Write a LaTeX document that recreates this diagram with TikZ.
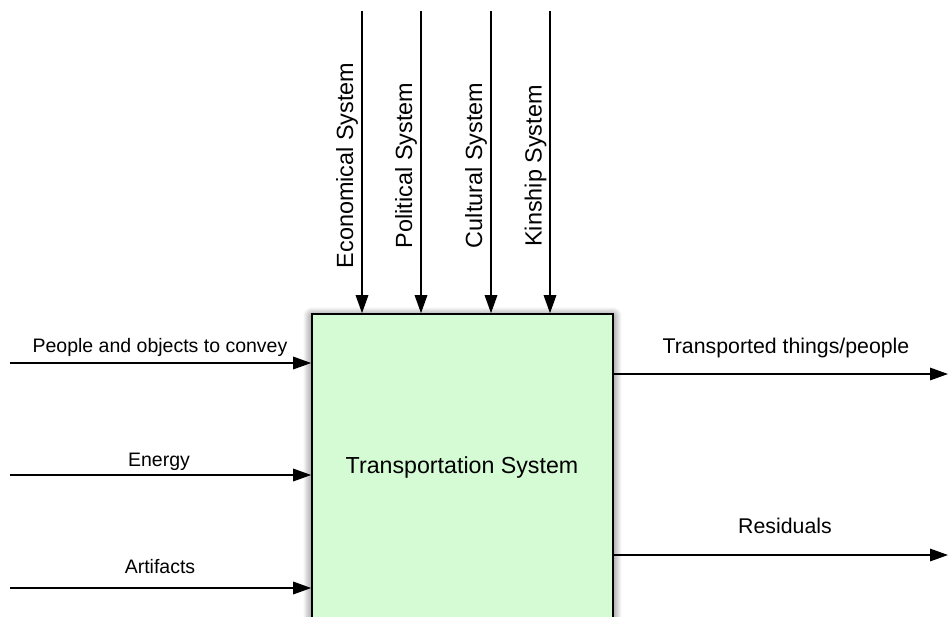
\documentclass[tikz,border=0pt]{standalone}
\usepackage{fontspec}
\setmainfont{Liberation Sans}
\usetikzlibrary{arrows.meta,shadows.blur}
\definecolor{boxgreen}{RGB}{212,251,212}
\begin{document}
\begin{tikzpicture}[x=1pt,y=-1pt,
  flow/.style={line width=1.6pt,-{Triangle[length=18pt,width=12.5pt]}},
  leftlbl/.style={font=\fontsize{19.5}{22}\selectfont,anchor=base,inner sep=0pt},
  rightlbl/.style={font=\fontsize{21.3}{24}\selectfont,anchor=base,inner sep=0pt},
  toplbl/.style={font=\fontsize{23.4}{26}\selectfont,anchor=base,inner sep=0pt,rotate=90},
  sysbox/.style={draw=black,line width=1.6pt,fill=boxgreen,
     blur shadow={shadow xshift=0pt,shadow yshift=-2pt,shadow blur radius=9pt,shadow opacity=70,shadow blur steps=12},
     minimum width=301pt,minimum height=306pt,inner sep=0pt}
]
\useasboundingbox (0,0) rectangle (949,616);
\node[sysbox] (box) at (462.5,467) {};
\node[font=\fontsize{23.2}{26}\selectfont,anchor=base,inner sep=0pt] (boxtxt) at (462,473) {Transportation System};

% top inputs
\coordinate (t1) at (362,11);
\coordinate (t2) at (421,11);
\coordinate (t3) at (491,11);
\coordinate (t4) at (550,11);
\draw[flow] (t1) -- (t1 |- box.north);
\draw[flow] (t2) -- (t2 |- box.north);
\draw[flow] (t3) -- (t3 |- box.north);
\draw[flow] (t4) -- (t4 |- box.north);
\node[toplbl] (econ) at (353,165.5) {Economical System};
\node[toplbl] (pol) at (412,165.5) {Political System};
\node[toplbl] (cult) at (482,165.5) {Cultural System};
\node[toplbl] (kin) at (541.5,166) {Kinship System};

% left inputs
\coordinate (l1) at (10,363);
\coordinate (l2) at (10,475);
\coordinate (l3) at (10,588);
\draw[flow] (l1) -- (l1 -| box.west);
\draw[flow] (l2) -- (l2 -| box.west);
\draw[flow] (l3) -- (l3 -| box.west);
\node[leftlbl] (people) at (160,352.5) {People and objects to convey};
\node[leftlbl] (energy) at (159,466.5) {Energy};
\node[leftlbl] (artif) at (160,573) {Artifacts};

% right outputs
\coordinate (r1) at (948,374);
\coordinate (r2) at (948,555);
\draw[flow] (r1 -| box.east) -- (r1);
\draw[flow] (r2 -| box.east) -- (r2);
\node[rightlbl] (transp) at (786,353) {Transported things/people};
\node[rightlbl] (resid) at (785,533) {Residuals};
\end{tikzpicture}
\end{document}
